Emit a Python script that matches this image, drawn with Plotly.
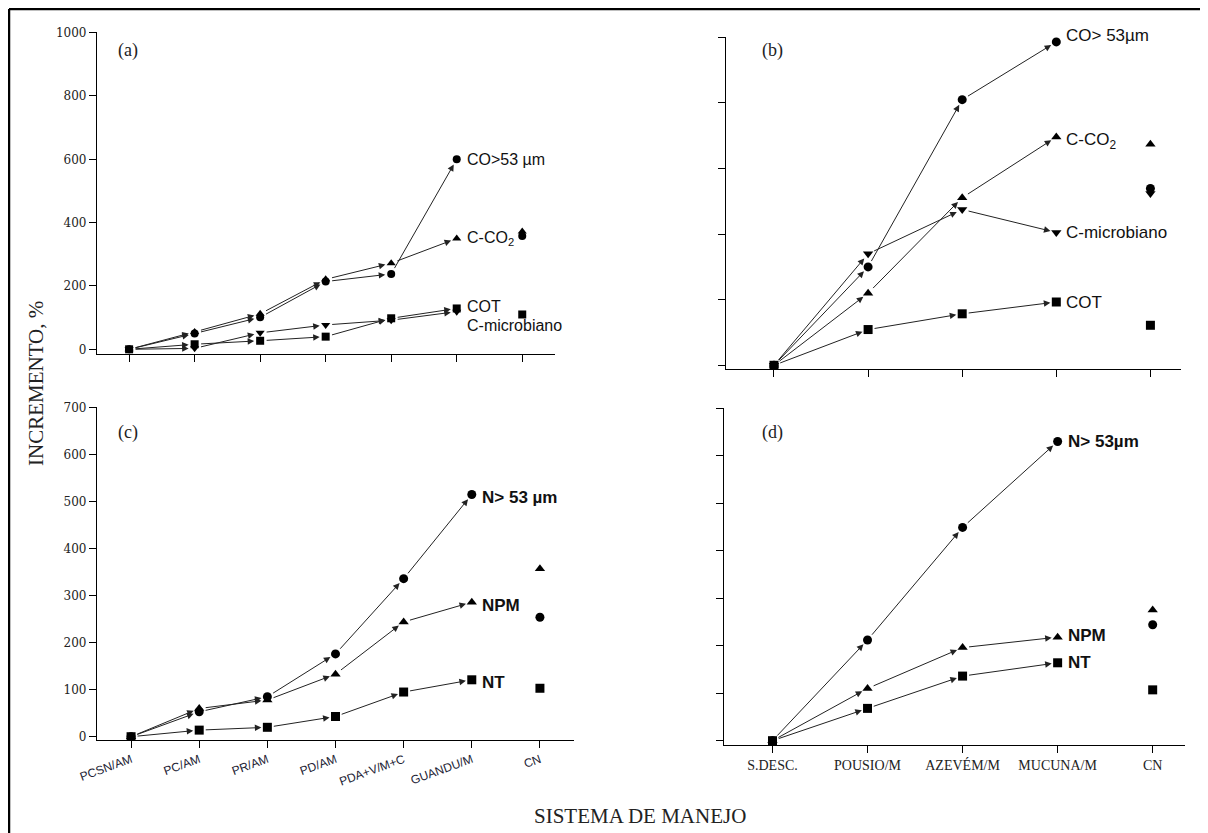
import plotly.graph_objects as go

W, H = 1208, 833
OFF = 8  # page offset of the figure inside the browser page

# ---------------- data ----------------
cats_ac = ["PCSN/AM", "PC/AM", "PR/AM", "PD/AM", "PDA+V/M+C", "GUANDU/M", "CN"]
cats_bd = ["S.DESC.", "POUSIO/M", "AZEVÉM/M", "MUCUNA/M", "CN"]

# panel (a)
a_co53 = [0, 50, 101, 214, 238, 600, 358]
a_cco2 = [0, 55, 112, 221, 272, 350, 372]
a_cot = [0, 16, 27, 40, 98, 129, 110]
a_cmic = [0, 3, 52, 77, 92, 119, None]

# panel (b)
b_co53 = [0, 300, 810, 986, 539]
b_cco2 = [0, 220, 511, 696, 674]
b_cmic = [0, 340, 475, 405, 524]
b_cot = [0, 109, 157, 193, 122]

# panel (c)
c_n53 = [0, 53, 85, 176, 336, 515, 254]
c_npm = [0, 60, 78, 133, 244, 286, 357]
c_nt = [0, 14, 20, 43, 95, 121, 103]

# panel (d)
d_n53 = [0, 212, 449, 630, 244]
d_npm = [0, 110, 196, 218, 275]
d_nt = [0, 68, 136, 164, 107]

ticks_ab = [0, 200, 400, 600, 800, 1000]
ticks_cd = [0, 100, 200, 300, 400, 500, 600, 700]


def px(x):
    return (x - OFF) / W


def py(y):
    return 1 - (y - OFF) / H


fig = go.Figure()
annotations = []

panels = [
    ("x", "y", cats_ac, [
        (a_co53, "circle", "CO>53 µm", 0),
        (a_cco2, "triangle-up", "C-CO<sub>2</sub>", 0),
        (a_cot, "square", "COT", 2),
        (a_cmic, "triangle-down", "C-microbiano", -14),
    ], 8, dict(family="Arial, Liberation Sans", size=16, color="#111")),
    ("x2", "y2", cats_bd, [
        (b_co53, "circle", "CO> 53µm", 6),
        (b_cco2, "triangle-up", "C-CO<sub>2</sub>", -4),
        (b_cmic, "triangle-down", "C-microbiano", 0),
        (b_cot, "square", "COT", 0),
    ], 9, dict(family="Arial, Liberation Sans", size=17, color="#111")),
    ("x3", "y3", cats_ac, [
        (c_n53, "circle", "<b>N> 53 µm</b>", -3),
        (c_npm, "triangle-up", "<b>NPM</b>", -3),
        (c_nt, "square", "<b>NT</b>", -3),
    ], 9, dict(family="Arial, Liberation Sans", size=17, color="#111")),
    ("x4", "y4", cats_bd, [
        (d_n53, "circle", "<b>N> 53µm</b>", 0),
        (d_npm, "triangle-up", "<b>NPM</b>", 2),
        (d_nt, "square", "<b>NT</b>", 0),
    ], 9, dict(family="Arial, Liberation Sans", size=17, color="#111")),
]

for xref, yref, cats, series, msize, lfont in panels:
    xs = list(range(len(cats)))
    last = len(cats) - 2  # last connected category (before CN)
    for vals, sym, label, ysh in series:
        fig.add_trace(go.Scatter(
            x=xs, y=vals, mode="markers", xaxis=xref, yaxis=yref,
            marker=dict(symbol=sym, size=msize, color="black"),
            showlegend=False, hoverinfo="skip"))
        for i in range(last):
            annotations.append(dict(
                x=xs[i + 1], y=vals[i + 1], ax=xs[i], ay=vals[i],
                xref=xref, yref=yref, axref=xref, ayref=yref,
                text="", showarrow=True, arrowhead=2, arrowsize=1.3,
                arrowwidth=1, arrowcolor="#222", standoff=6, startstandoff=5))
        annotations.append(dict(
            x=xs[last], y=vals[last], xref=xref, yref=yref, text=label,
            showarrow=False, xanchor="left", yanchor="middle", xshift=8,
            yshift=ysh, font=lfont))

# panel letters
for letter, cx, cy in [("(a)", 128, 51), ("(b)", 772, 51), ("(c)", 128, 432), ("(d)", 772, 432)]:
    annotations.append(dict(x=px(cx), y=py(cy), xref="paper", yref="paper", text=letter,
                            showarrow=False, xanchor="center", yanchor="middle",
                            font=dict(family="Liberation Serif", size=18, color="#222")))

# axis titles
annotations.append(dict(x=px(36), y=py(384), xref="paper", yref="paper", text="INCREMENTO, %",
                        textangle=-90, showarrow=False, xanchor="center", yanchor="middle",
                        font=dict(family="Liberation Serif", size=21, color="#222")))
annotations.append(dict(x=px(640), y=py(816), xref="paper", yref="paper", text="SISTEMA DE MANEJO",
                        showarrow=False, xanchor="center", yanchor="middle",
                        font=dict(family="Liberation Serif", size=21, color="#222")))

common = dict(showline=True, linecolor="black", linewidth=1.3, ticks="outside", ticklen=7,
              tickwidth=1, tickcolor="black", showgrid=False, zeroline=False, automargin=False)
ytickfont = dict(family="DejaVu Serif", size=12, color="#222")

fig.update_layout(
    width=W, height=H, margin=dict(l=0, r=0, t=0, b=0, pad=0, autoexpand=False),
    paper_bgcolor="white", plot_bgcolor="white", showlegend=False,
    xaxis=dict(domain=[px(97), px(555)], range=[-0.49, 6.5], tickvals=list(range(len(cats_ac))),
               showticklabels=False, anchor="y", **common),
    yaxis=dict(domain=[py(354), py(32)], range=[-14.8, 1002], tickvals=ticks_ab,
               tickfont=ytickfont, anchor="x", **common),
    xaxis2=dict(domain=[px(726), px(1181)], range=[-0.51, 4.325], tickvals=list(range(len(cats_bd))),
                showticklabels=False, anchor="y2", **common),
    yaxis2=dict(domain=[py(369), py(37)], range=[-11.3, 1001], tickvals=ticks_ab,
                showticklabels=False, anchor="x2", **common),
    xaxis3=dict(domain=[px(97), px(574)], range=[-0.5, 6.5], tickvals=list(range(len(cats_ac))),
                ticktext=cats_ac, tickangle=-20,
                tickfont=dict(family="Arial, Liberation Sans", size=12, color="#223"),
                anchor="y3", **common),
    yaxis3=dict(domain=[py(740), py(407)], range=[-7, 701], tickvals=ticks_cd,
                tickfont=ytickfont, anchor="x3", **common),
    xaxis4=dict(domain=[px(724), px(1185)], range=[-0.51, 4.34], tickvals=list(range(len(cats_bd))),
                ticktext=cats_bd, tickfont=dict(family="Liberation Serif", size=14, color="#222"),
                anchor="y4", **common),
    yaxis4=dict(domain=[py(745), py(408)], range=[-9.1, 700.5], tickvals=ticks_cd,
                showticklabels=False, anchor="x4", **common),
    annotations=annotations,
    shapes=[
        dict(type="line", xref="paper", yref="paper", x0=px(9), x1=px(9), y0=0, y1=py(9),
             line=dict(color="black", width=2.5)),
        dict(type="line", xref="paper", yref="paper", x0=px(9), x1=1, y0=py(9), y1=py(9),
             line=dict(color="black", width=2.5)),
    ],
)

fig.write_html("out.html")
